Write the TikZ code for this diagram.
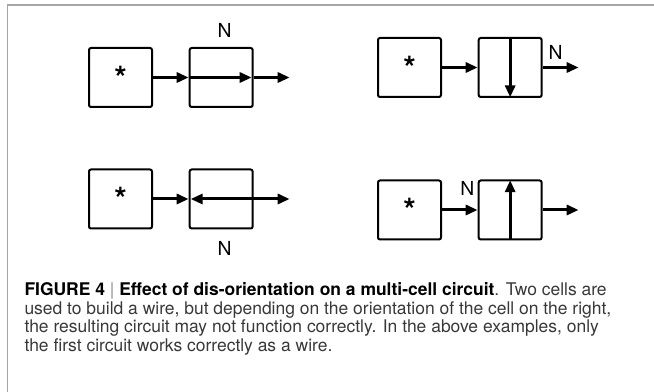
\documentclass[tikz,border=0pt]{standalone}
\usepackage{fontspec}
\setmainfont{TeX Gyre Heros}
\usetikzlibrary{arrows.meta,positioning}

\begin{document}
\begin{tikzpicture}[->,>={Triangle[length=9pt,width=7.5pt]},x=0.75pt,y=-0.75pt,
	node distance=75.5pt,line width=2.25pt,
	cell/.style={draw,rounded corners=1.5pt,line width=1.5pt,minimum width=47.25pt,
		minimum height=44.25pt,inner sep=0pt,font=\fontsize{24}{24}\bfseries\selectfont},
	lab/.style={font=\fontsize{14.5}{14.5}\selectfont,inner sep=0pt}]

\useasboundingbox (0,0) rectangle (654,392);
\draw[-,line width=1.1pt,black!35] (7.5,392) -- (7.5,5) -- (654,5);

\node[cell](a1) at (120.5,77.5){*};
\node[cell](b1)[right of=a1]{};
\node[cell](a2) at (409.5,67.5){*};
\node[cell](b2)[right of=a2]{};
\node[cell](a3) at (120.5,199){*};
\node[cell](b3)[right of=a3]{};
\node[cell](a4) at (409.5,210){*};
\node[cell](b4)[right of=a4]{};

\coordinate[right=27pt of b1.east](o1);
\coordinate[right=27pt of b2.east](o2);
\coordinate[right=27pt of b3.east](o3);
\coordinate[right=27pt of b4.east](o4);

\node[lab](n1)[above=6pt of b1,xshift=2.5pt]{N};
\node[lab](n3)[below=7.5pt of b3,xshift=2.5pt]{N};

\path(a1)edge(b1)
	(b1.west)edge[shorten >=1.5pt](b1.east)
	(b1)edge(o1)
	(a2)edge(b2)
	(b2.north)edge[shorten >=0.5pt](b2.south)
	(b2)edge node[lab,above,pos=0.36,yshift=5pt]{N}(o2)
	(a3)edge(b3)
	(b3.east)edge[shorten >=1.5pt](b3.west)
	(b3)edge(o3)
	(a4)edge node[lab,above,pos=0.71,yshift=10pt]{N}(b4)
	(b4.south)edge[shorten >=0.5pt](b4.north)
	(b4)edge(o4);

\node[anchor=north west,align=left,inner sep=0pt,text=black!78,
	font=\fontsize{13.1}{13.9}\selectfont](cap) at (23,281)
	{{\bfseries\color{black}FIGURE 4 {\mdseries\color{black!45}|} Effect of dis-orientation on a multi-cell circuit}. Two cells are\\
	used to build a wire, but depending on the orientation of the cell on the right,\\
	the resulting circuit may not function correctly. In the above examples, only\\
	the first circuit works correctly as a wire.};

\end{tikzpicture}
\end{document}
